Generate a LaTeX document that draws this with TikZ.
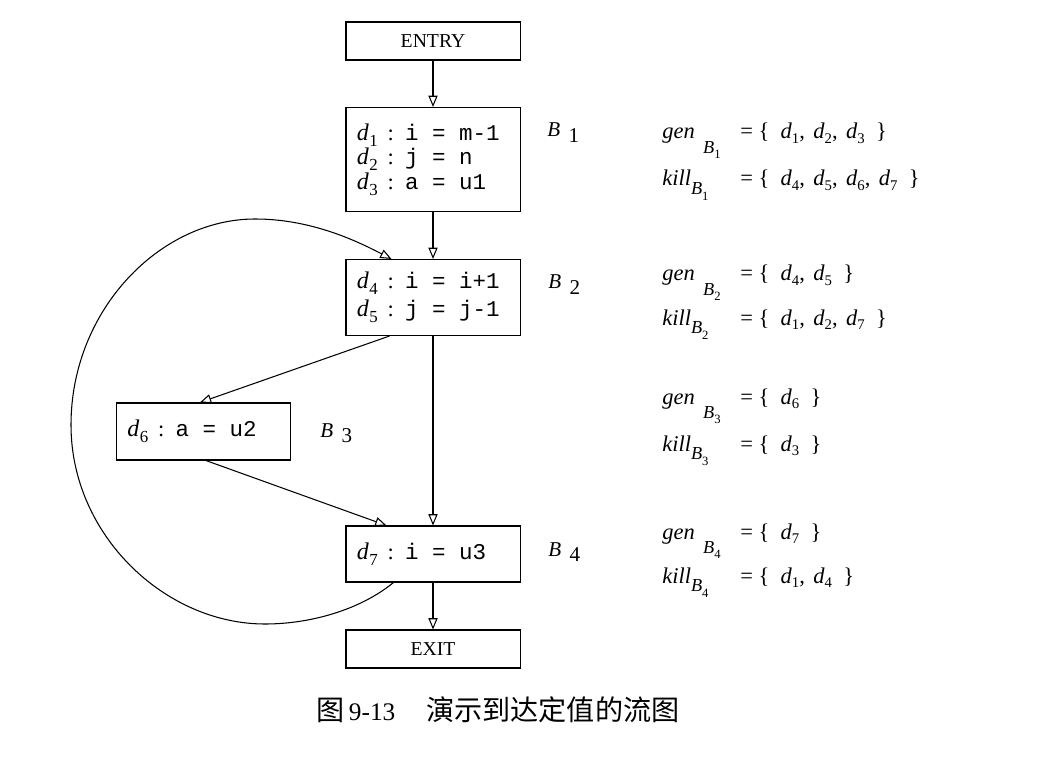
\documentclass[tikz,border=0pt]{standalone}
\usepackage{fontspec}
\setmainfont{Liberation Serif}
\setmonofont{Liberation Mono}
\newfontfamily\cjk{Noto Sans CJK SC}
\usetikzlibrary{arrows.meta,calc}

\newcommand{\dv}[1]{{\fontsize{17}{17}\selectfont\textit{d}}\kern0.3pt\raisebox{-0.6ex}{\fontsize{12}{12}\selectfont #1}}
\newcommand{\cln}{\hspace{7pt}:\hspace{8pt}}
\newcommand{\tsp}{\hspace{0.6em}}
\newcommand{\ds}[1]{\textit{d}\raisebox{-3pt}{\fontsize{10.5}{10.5}\selectfont #1}}
\newcommand{\gn}[1]{\textit{gen}\hspace{6pt}\raisebox{-10pt}{\fontsize{13}{13}\selectfont\textit{B}\raisebox{-4pt}{\fontsize{9}{9}\selectfont #1}}}
\newcommand{\kl}[1]{\textit{kill}\raisebox{-6pt}{\fontsize{13}{13}\selectfont\textit{B}\raisebox{-4pt}{\fontsize{9}{9}\selectfont #1}}}
\newcommand{\blb}[1]{\textit{B}\hspace{6pt}\raisebox{-0.6ex}{#1}}

\begin{document}
\begin{tikzpicture}[x=0.025cm,y=-0.025cm,
  blk/.style={draw, line width=0.75pt, rectangle, inner sep=0pt},
  code/.style={blk, text width=3.8cm, align=left, inner xsep=0.275cm},
  term/.style={blk, minimum width=4.35cm, minimum height=0.95cm, font=\fontsize{14}{14}\selectfont},
  flow/.style={-{Triangle[open,length=8pt,width=6.5pt]}, line width=0.75pt},
  blab/.style={anchor=base west, font=\fontsize{15}{15}\selectfont, inner sep=0pt},
  eqn/.style={anchor=base west, font=\fontsize{16}{16}\selectfont, inner sep=0pt}]
\useasboundingbox (0,0) rectangle (1056,760);

% blocks
\node[term] (entry) at (433,41) {ENTRY};
\node[code, minimum height=2.6cm, font=\fontsize{16}{17.5}\selectfont] (b1) at (433,159.5)
  {\dv{1}\cln\texttt{i\tsp=\tsp m-1}\\ \dv{2}\cln\texttt{j\tsp=\tsp n}\\ \dv{3}\cln\texttt{a\tsp=\tsp u1}};
\node[code, minimum height=1.9cm, font=\fontsize{16}{20}\selectfont] (b2) at (433,297.5)
  {\dv{4}\cln\texttt{i\tsp=\tsp i+1}\\ \dv{5}\cln\texttt{j\tsp=\tsp j-1}};
\node[code, minimum height=1.425cm, font=\fontsize{16}{17}\selectfont] (b3) at (203.5,431.5)
  {\dv{6}\cln\texttt{a\tsp=\tsp u2}};
\node[code, minimum height=1.4cm, font=\fontsize{16}{17}\selectfont] (b4) at (433,554)
  {\dv{7}\cln\texttt{i\tsp=\tsp u3}};
\node[term] (exit) at (433,649) {EXIT};

% block labels
\node[blab] (lb1) at (547,137) {\blb{1}};
\node[blab] (lb2) at (548,289) {\blb{2}};
\node[blab] (lb3) at (320,437) {\blb{3}};
\node[blab] (lb4) at (548,556) {\blb{4}};

% edges
\draw[flow] (entry.south) -- (b1.north);
\draw[flow] (b1.south) -- (b2.north);
\draw[flow] (b2.south) -- (b4.north);
\draw[flow] ($(b2.south west)+(44,0)$) -- ($(b3.north west)+(84,0)$);
\draw[flow] ($(b3.south west)+(90,0)$) -- ($(b4.north west)+(41,0)$);
\draw[flow] (b4.south) -- (exit.north);
\draw[flow] ($(b4.south west)+(48,0)$) .. controls (360,610) and (310,624) .. (265,624)
  .. controls (165,624) and (71,535) .. (71,425)
  .. controls (71,310) and (160,219) .. (255,219)
  .. controls (310,219) and (355,240) .. ($(b2.north west)+(46,0)$);

% gen / kill sets
\node[eqn] (g1) at (662,139) {\gn{1}};
\node[eqn] (g1s) at (740,139) {= \{\hspace{8pt}\ds{1},\hspace{6pt}\ds{2},\hspace{6pt}\ds{3}\hspace{8pt}\}};
\node[eqn] (k1) at (662,186) {\kl{1}};
\node[eqn] (k1s) at (740,186) {= \{\hspace{8pt}\ds{4},\hspace{6pt}\ds{5},\hspace{6pt}\ds{6},\hspace{6pt}\ds{7}\hspace{8pt}\}};
\node[eqn] (g2) at (662,281) {\gn{2}};
\node[eqn] (g2s) at (740,281) {= \{\hspace{8pt}\ds{4},\hspace{6pt}\ds{5}\hspace{8pt}\}};
\node[eqn] (k2) at (662,325) {\kl{2}};
\node[eqn] (k2s) at (740,325) {= \{\hspace{8pt}\ds{1},\hspace{6pt}\ds{2},\hspace{6pt}\ds{7}\hspace{8pt}\}};
\node[eqn] (g3) at (662,404) {\gn{3}};
\node[eqn] (g3s) at (740,404) {= \{\hspace{8pt}\ds{6}\hspace{8pt}\}};
\node[eqn] (k3) at (662,451) {\kl{3}};
\node[eqn] (k3s) at (740,451) {= \{\hspace{8pt}\ds{3}\hspace{8pt}\}};
\node[eqn] (g4) at (662,539) {\gn{4}};
\node[eqn] (g4s) at (740,539) {= \{\hspace{8pt}\ds{7}\hspace{8pt}\}};
\node[eqn] (k4) at (662,583) {\kl{4}};
\node[eqn] (k4s) at (740,583) {= \{\hspace{8pt}\ds{1},\hspace{6pt}\ds{4}\hspace{8pt}\}};

% caption
\node[font=\fontsize{18}{18}\selectfont] (cap) at (498,710)
  {{\cjk\fontsize{20}{20}\selectfont 图}\hspace{3pt}9-13\hspace{22pt}{\cjk\fontsize{20}{20}\selectfont 演示到达定值的流图}};
\end{tikzpicture}
\end{document}
